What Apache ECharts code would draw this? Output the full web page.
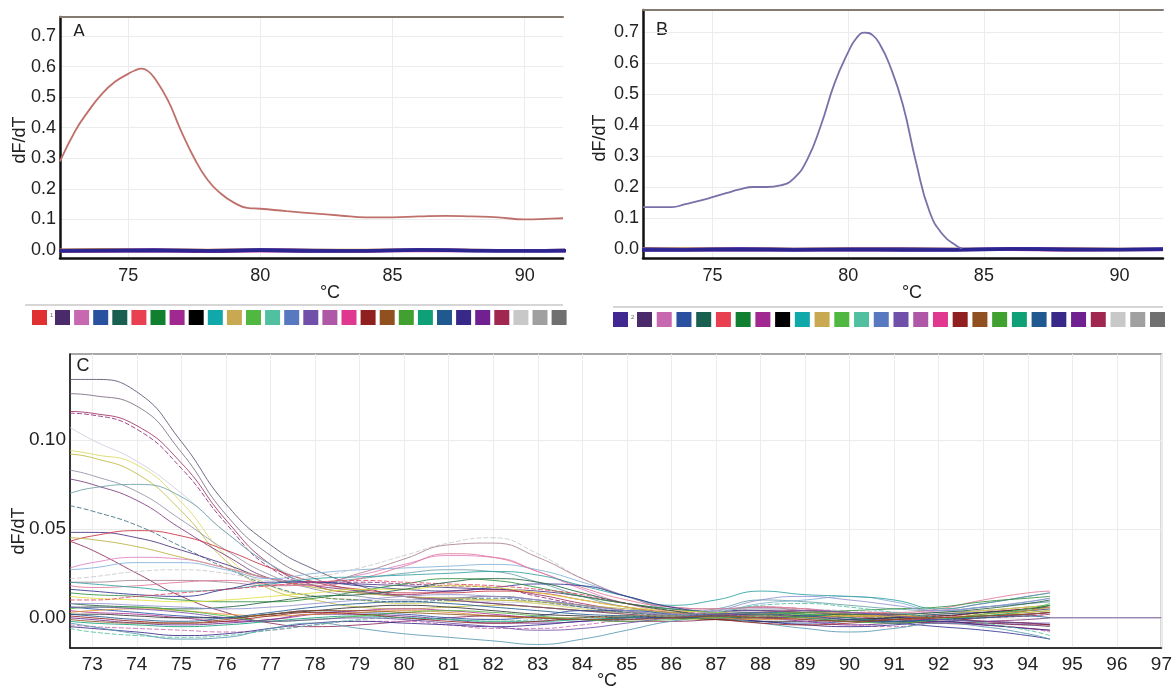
<!DOCTYPE html>
<html>
<head>
<meta charset="utf-8">
<script src="https://cdn.jsdelivr.net/npm/echarts@6/dist/echarts.min.js"></script>
<style>
  html, body { margin: 0; background: #fff; }
  #chart { width: 1175px; height: 686px; }
</style>
</head>
<body>
<div id="chart"></div>
<script>
// ---- panel A / B : single melt peak + flat negatives ----
const xA = [72.42, 73, 73.5, 74, 74.5, 75, 75.25, 75.5, 75.75, 76, 76.5, 77, 77.5, 78, 78.5, 79, 79.5, 80, 81, 82, 83, 84, 85, 86, 87, 88, 89, 90, 91, 91.45];
const peakA = [0.29, 0.39, 0.455, 0.51, 0.55, 0.576, 0.587, 0.593, 0.585, 0.562, 0.49, 0.39, 0.30, 0.23, 0.185, 0.155, 0.138, 0.135, 0.127, 0.12, 0.113, 0.107, 0.107, 0.11, 0.112, 0.11, 0.107, 0.10, 0.103, 0.104];

const xB = [72.44, 73, 73.5, 74, 74.5, 75, 75.5, 76, 76.5, 77, 77.5, 78, 78.5, 79, 79.5, 80, 80.3, 80.6, 80.9, 81.2, 81.5, 82, 82.5, 83, 83.5, 84, 84.2];
const peakB = [0.135, 0.135, 0.135, 0.145, 0.155, 0.167, 0.18, 0.192, 0.2, 0.2, 0.205, 0.228, 0.29, 0.40, 0.535, 0.635, 0.68, 0.698, 0.69, 0.655, 0.60, 0.47, 0.28, 0.12, 0.045, 0.01, 0.002];

const xFlat = [72.4, 74, 76, 78, 80, 82, 84, 86, 88, 90, 91.6];
const flatA = {
  orange:  [0.003, 0.004, 0.003, 0.002, 0.003, 0.002, 0.002, 0.003, 0.002, 0.001, 0.002],
  black:   [-0.001, 0.000, 0.000, -0.001, 0.000, -0.001, -0.001, 0.001, 0.000, -0.001, 0.000],
  magenta: [-0.006, -0.006, -0.005, -0.007, -0.005, -0.006, -0.006, -0.004, -0.005, -0.005, -0.006],
  purple:  [0.002, 0.003, 0.004, 0.001, 0.004, 0.002, 0.001, 0.004, 0.002, 0.001, 0.003],
  navy:    [-0.003, -0.002, -0.002, -0.003, -0.001, -0.003, -0.003, 0.000, -0.002, -0.003, -0.002]
};
const flatB = {
  orange:  [0.004, 0.003, 0.004, 0.002, 0.003, 0.003, 0.002, 0.002, 0.003, 0.002, 0.002],
  black:   [0.000, -0.001, 0.000, 0.000, 0.001, -0.001, 0.000, 0.001, 0.000, 0.000, -0.001],
  magenta: [-0.006, -0.005, -0.006, -0.006, -0.005, -0.006, -0.005, -0.004, -0.006, -0.005, -0.005],
  purple:  [0.003, 0.002, 0.004, 0.002, 0.003, 0.003, 0.002, 0.004, 0.003, 0.002, 0.003],
  navy:    [-0.003, -0.003, -0.002, -0.003, -0.002, -0.003, -0.003, 0.000, -0.002, -0.002, -0.001]
};
const flatColors = { navy: '#2a2590', purple: '#5a3aa0', magenta: '#c83aa0', black: '#202020', orange: '#e0a030' };

// ---- panel C : all wells ----
const xC = [72.5, 73, 74, 75, 76, 77, 78, 79, 80, 81, 82, 83, 84, 85, 86, 87, 88, 89, 90, 91, 92, 93, 94, 94.5];
const wells = [
  ['#5a5070', [.134,.134,.127,.099,.064,.041,.027,.018,.012,.010,.008,.006,.004,.003,.002,.001,.002,.001,.000,-.001,-.002,-.003,-.004,-.005]],
  ['#7a6a80', [.126,.125,.119,.093,.058,.035,.022,.015,.012,.011,.012,.010,.007,.004,.002,.003,.005,.004,.002,.000,-.002,.000,.002,.003]],
  ['#a03060', [.116,.115,.108,.087,.055,.030,.018,.014,.013,.015,.016,.013,.008,.004,.001,.000,.002,.003,.001,-.001,-.003,-.004,-.006,-.007]],
  ['#8a2a7a', [.115,.114,.106,.084,.053,.028,.020,.020,.019,.018,.017,.012,.007,.003,.002,.003,.006,.005,.003,.002,.001,.003,.005,.006]],
  ['#cfcbe0', [.107,.100,.088,.070,.048,.030,.020,.015,.012,.010,.009,.008,.006,.004,.003,.004,.005,.004,.003,.003,.004,.006,.008,.009]],
  ['#d8d860', [.094,.092,.086,.065,.035,.018,.012,.010,.008,.009,.010,.008,.005,.003,.002,.001,.003,.004,.002,.001,.000,.002,.004,.005]],
  ['#c0b840', [.092,.090,.081,.060,.032,.016,.010,.006,.005,.006,.007,.006,.004,.002,.000,-.001,.000,.002,.001,.000,-.001,.001,.003,.004]],
  ['#9090a8', [.083,.080,.071,.055,.038,.024,.016,.012,.010,.011,.012,.010,.006,.003,.002,.003,.004,.003,.002,.001,.002,.004,.006,.007]],
  ['#7a3a7a', [.078,.075,.066,.050,.035,.022,.018,.015,.012,.010,.008,.006,.004,.002,.001,.002,.003,.002,.000,-.002,-.003,-.002,-.001,.000]],
  ['#6aa0a8', [.070,.073,.075,.068,.048,.030,.020,.022,.025,.027,.026,.020,.012,.006,.003,.005,.010,.009,.007,.005,.004,.006,.008,.009]],
  ['#407080', [.063,.060,.052,.040,.028,.018,.012,.010,.009,.010,.011,.009,.006,.003,.001,.000,.001,.002,.001,.000,-.001,.000,.001,.002]],
  ['#4a3080', [.048,.048,.045,.038,.030,.022,.020,.019,.018,.017,.016,.015,.012,.008,.005,.004,.004,.003,.002,.001,.000,.001,.002,.003]],
  ['#c83040', [.043,.046,.049,.046,.038,.028,.020,.016,.014,.014,.015,.014,.010,.006,.003,.002,.003,.004,.003,.002,.001,.003,.005,.006]],
  ['#8a2a5a', [.043,.038,.025,.012,.003,-.003,-.005,-.004,-.002,.000,.001,.000,-.001,-.002,-.002,-.001,.000,.000,-.001,-.002,-.003,-.003,-.004,-.004]],
  ['#b8b040', [.045,.044,.040,.034,.028,.022,.017,.014,.012,.011,.010,.009,.007,.005,.003,.002,.003,.003,.002,.001,.000,.001,.003,.004]],
  ['#e080c0', [.028,.031,.034,.033,.028,.022,.020,.024,.030,.035,.034,.026,.016,.008,.004,.004,.006,.005,.003,.002,.004,.008,.012,.014]],
  ['#80b0d8', [.027,.028,.031,.031,.027,.022,.025,.027,.028,.029,.030,.027,.020,.012,.005,.004,.008,.010,.012,.009,.004,.006,.009,.011]],
  ['#c8c8d0', [.022,.023,.026,.027,.025,.021,.023,.028,.035,.042,.045,.036,.022,.012,.006,.004,.006,.005,.004,.003,.002,.003,.004,.005]],
  ['#a88090', [.020,.020,.021,.021,.020,.018,.019,.025,.033,.041,.042,.034,.022,.012,.006,.005,.006,.004,.003,.002,.003,.004,.006,.007]],
  ['#e07898', [.018,.017,.018,.020,.021,.019,.018,.022,.029,.036,.034,.026,.017,.010,.006,.005,.006,.005,.003,.003,.005,.010,.014,.015]],
  ['#30a0a0', [.020,.019,.017,.015,.016,.019,.022,.023,.024,.025,.026,.024,.018,.012,.007,.010,.015,.013,.012,.010,.005,.008,.012,.014]],
  ['#303090', [.016,.015,.013,.012,.016,.020,.020,.018,.016,.015,.017,.019,.018,.012,.006,.003,.002,.000,-.002,-.003,-.005,-.007,-.010,-.012]],
  ['#309040', [.014,.013,.012,.010,.009,.009,.011,.015,.019,.022,.021,.017,.012,.008,.005,.003,.002,.003,.004,.005,.006,.009,.011,.012]],
  ['#e0e040', [.012,.011,.010,.009,.010,.012,.014,.016,.016,.018,.017,.014,.010,.006,.004,.003,.002,.002,.001,.001,.002,.004,.006,.007]],
  ['#e84060', [.010,.010,.012,.014,.016,.018,.020,.021,.020,.019,.018,.016,.013,.008,.004,.002,.001,.001,.000,-.001,-.001,.000,.001,.002]],
  ['#206040', [.008,.007,.006,.005,.006,.009,.012,.013,.016,.020,.022,.020,.014,.008,.004,.001,.000,.001,.002,.002,.003,.005,.008,.010]],
  ['#2a50a0', [.006,.005,.003,.001,.000,.002,.004,.003,.002,.000,-.001,.001,.004,.004,.002,.000,-.002,-.003,-.002,.000,.002,.003,.004,.005]],
  ['#b03090', [.004,.003,.002,.000,-.002,-.001,.002,.004,.005,.004,.002,.000,-.001,.000,.001,.002,.001,-.001,-.002,-.002,.000,.001,.002,.003]],
  ['#303030', [.002,.002,.001,.000,.000,.002,.004,.006,.007,.006,.004,.002,.001,.000,.000,-.001,-.002,-.002,-.001,.000,.001,.003,.005,.007]],
  ['#6a2a90', [.000,-.001,-.003,-.004,-.003,-.001,.002,.002,.001,-.001,-.003,-.003,-.002,.000,.001,.001,.000,-.002,-.004,-.003,-.001,-.002,-.003,-.004]],
  ['#10a078', [-.002,-.003,-.004,-.005,-.004,-.002,.000,.001,.000,-.001,-.002,-.002,-.001,.000,.001,.002,.003,.002,.000,-.002,-.001,.001,.004,.007]],
  ['#c868b0', [-.004,-.005,-.006,-.007,-.008,-.007,-.004,-.002,-.002,-.004,-.006,-.006,-.004,-.001,.001,.001,.000,-.002,-.004,-.005,-.003,-.004,-.006,-.008]],
  ['#382888', [-.005,-.006,-.008,-.010,-.009,-.006,-.003,-.002,-.003,-.004,-.005,-.004,-.002,-.001,.000,.000,-.002,-.004,-.005,-.004,-.002,-.004,-.006,-.007]],
  ['#5898b0', [-.003,-.005,-.009,-.012,-.011,-.006,-.003,-.006,-.009,-.011,-.013,-.015,-.012,-.007,-.002,.000,-.003,-.006,-.008,-.006,-.003,-.005,-.009,-.012]],
  ['#e09030', [.003,.004,.005,.004,.002,.001,.002,.003,.004,.003,.001,.000,.000,.001,.001,.000,-.001,.000,.001,.001,.000,.002,.004,.006]],
  ['#902020', [.001,.000,-.002,-.003,-.002,.001,.003,.002,.000,-.002,-.003,-.002,.000,.001,.000,-.001,-.003,-.004,-.003,-.001,.000,-.002,-.003,-.004]],
  ['#50b840', [.005,.006,.006,.004,.001,-.002,-.001,.001,.003,.004,.003,.001,-.001,-.002,-.001,.000,.001,.000,-.002,-.003,-.001,.002,.005,.008]],
  ['#205890', [.002,.001,-.001,-.002,.000,.003,.006,.008,.009,.008,.006,.004,.002,.001,.000,.001,.002,.001,-.001,-.002,-.001,.000,.001,.000]],
  ['#50c0a0', [-.006,-.008,-.010,-.011,-.010,-.007,-.004,-.001,.000,-.001,-.002,-.001,.000,.001,.001,.003,.007,.008,.006,.003,.000,-.003,-.007,-.010]],
  ['#7050a8', [.006,.006,.005,.003,.000,-.002,-.001,.000,-.001,-.003,-.005,-.007,-.006,-.003,.000,.002,.003,.004,.003,.001,-.001,-.002,-.003,-.003]],
  ['#9090d0', [.008,.008,.007,.006,.005,.006,.008,.010,.012,.013,.012,.010,.007,.004,.002,.004,.010,.012,.010,.007,.004,.006,.009,.011]],
  ['#905020', [-.001,-.002,-.003,-.003,-.001,.002,.004,.004,.003,.002,.001,.000,-.001,-.001,.000,.001,.000,-.001,-.002,-.001,.000,.001,.002,.003]]
];
const tailX = [94.5, 97];
const tailY = [0, 0];

// ---- ticks / legend chips ----
const ticksAB_x = [75, 80, 85, 90];
const ticksAB_y = [0, 0.1, 0.2, 0.3, 0.4, 0.5, 0.6, 0.7];
const ticksC_x = [73, 74, 75, 76, 77, 78, 79, 80, 81, 82, 83, 84, 85, 86, 87, 88, 89, 90, 91, 92, 93, 94, 95, 96, 97];
const ticksC_y = [0, 0.05, 0.10];
const chipColors = ['#4a2a6a', '#c868b0', '#2a50a0', '#1a6050', '#e84050', '#108030', '#a02890', '#000000', '#10a8a8',
  '#c8a850', '#50b840', '#50c0a0', '#5878c0', '#7050a8', '#b058a8', '#e03890', '#902020', '#905020', '#40a030',
  '#10a078', '#205890', '#382888', '#702090', '#a02850', '#c8c8c8', '#a0a0a0', '#707070'];

const FONT = '"Liberation Sans", Arial, sans-serif';
const chart = echarts.init(document.getElementById('chart'));

const pts = (xs, ys) => xs.map((x, i) => [x, ys[i]]);
const line = (xi, yi, xs, ys, color, width, extra) => Object.assign({
  type: 'line', xAxisIndex: xi, yAxisIndex: yi, data: pts(xs, ys),
  smooth: true, symbol: 'none', silent: true, animation: false,
  lineStyle: { color: color, width: width }
}, extra || {});

const gridLine = { show: true, lineStyle: { color: '#ececec', width: 1 } };

function bottomX(grid, min, max, ticks, fs, margin) {
  return {
    type: 'value', gridIndex: grid, min: min, max: max,
    axisLine: { show: true, onZero: false, lineStyle: { color: '#111', width: grid === 2 ? 1.5 : 2.5 } },
    axisTick: { show: false, customValues: ticks },
    axisLabel: { customValues: ticks, color: '#222', fontSize: fs, fontFamily: FONT, margin: margin },
    splitLine: gridLine
  };
}
function topX(grid, min, max) {
  return {
    type: 'value', gridIndex: grid, min: min, max: max, position: 'top',
    axisLine: { show: true, onZero: false, lineStyle: { color: '#857a70', width: 2 } },
    axisTick: { show: false }, axisLabel: { show: false }, splitLine: { show: false }
  };
}
function leftY(grid, min, max, ticks, digits, fs, lineW) {
  return {
    type: 'value', gridIndex: grid, min: min, max: max,
    axisLine: { show: true, onZero: false, lineStyle: { color: '#111', width: lineW } },
    axisTick: { show: false, customValues: ticks },
    axisLabel: { customValues: ticks, color: '#222', fontSize: fs, fontFamily: FONT, margin: 4,
      formatter: v => v.toFixed(digits) },
    splitLine: gridLine
  };
}

const series = [];
Object.keys(flatA).forEach(k => series.push(line(0, 0, xFlat, flatA[k], flatColors[k], k === 'navy' ? 3.5 : 1.5)));
series.push(line(0, 0, xA, peakA, '#c0706a', 1.8));
Object.keys(flatB).forEach(k => series.push(line(2, 1, xFlat, flatB[k], flatColors[k], k === 'navy' ? 3.5 : 1.5)));
series.push(line(2, 1, xB, peakB, '#7a70a8', 1.8));
wells.forEach((w, i) => series.push(line(4, 2, xC, w[1], w[0], 1,
  { lineStyle: { color: w[0], width: 1, opacity: 0.85, type: i % 7 === 3 ? [5, 2] : 'solid' } })));
series.push(line(4, 2, tailX, tailY, '#7a60a0', 1.2, { smooth: false }));

// legend chips and text
const graphics = [];
const chipRow = (x0, xFirst, step, y, first, tag) => {
  graphics.push({ type: 'rect', shape: { x: x0, y: y, width: 15, height: 15 }, style: { fill: first } });
  graphics.push({ type: 'text', x: x0 + 18, y: y + 2, style: { text: tag, font: '6px ' + FONT, fill: '#666' } });
  chipColors.forEach((c, i) => graphics.push({
    type: 'rect', shape: { x: xFirst + i * step, y: y, width: 15, height: 15 }, style: { fill: c }
  }));
};
graphics.push({ type: 'line', shape: { x1: 25, y1: 305, x2: 563, y2: 305 }, style: { stroke: '#c8c8c8', lineWidth: 1.5 } });
graphics.push({ type: 'line', shape: { x1: 613, y1: 307, x2: 1163, y2: 307 }, style: { stroke: '#c8c8c8', lineWidth: 1.5 } });
chipRow(32, 55, 19.1, 310, '#e03030', '1');
chipRow(613, 637, 19.73, 312, '#402890', '2');

const txt = (x, y, s, size, rot) => ({
  type: 'text', x: x, y: y, rotation: rot || 0,
  style: { text: s, font: size + 'px ' + FONT, fill: '#222', align: 'center', verticalAlign: 'middle' }
});
graphics.push(txt(20, 140, 'dF/dT', 18, Math.PI / 2));
graphics.push(txt(600, 138, 'dF/dT', 18, Math.PI / 2));
graphics.push(txt(19, 531, 'dF/dT', 18, Math.PI / 2));
graphics.push(txt(79, 32, 'A', 18));
graphics.push(txt(662, 30, 'B', 18));
graphics.push(txt(83, 366, 'C', 18));
graphics.push(txt(330, 293, '°C', 18));
graphics.push(txt(912, 293, '°C', 18));
graphics.push(txt(607, 681, '°C', 18));

chart.setOption({
  backgroundColor: '#fff',
  animation: false,
  grid: [
    { left: 60, top: 17, width: 503, height: 241 },
    { left: 643, top: 10, width: 520, height: 248 },
    { left: 70, top: 354, width: 1096, height: 294, show: true, borderColor: '#8a8a8a', borderWidth: 1.5 }
  ],
  xAxis: [
    bottomX(0, 72.42, 91.45, ticksAB_x, 18, 9),
    topX(0, 72.42, 91.45),
    bottomX(1, 72.44, 91.6, ticksAB_x, 18, 9),
    topX(1, 72.44, 91.6),
    bottomX(2, 72.5, 97, ticksC_x, 19, 7)
  ],
  yAxis: [
    leftY(0, -0.026, 0.762, ticksAB_y, 1, 18, 2.5),
    leftY(1, -0.029, 0.771, ticksAB_y, 1, 18, 2.5),
    leftY(2, -0.017, 0.1483, ticksC_y, 2, 19, 1.5)
  ],
  graphic: graphics,
  series: series
});
</script>
</body>
</html>
